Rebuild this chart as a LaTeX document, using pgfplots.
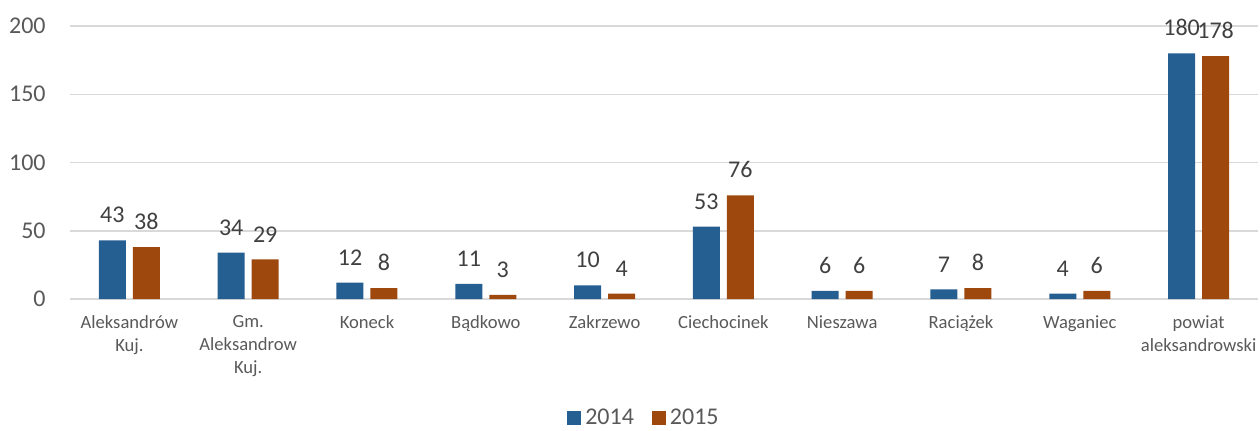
\documentclass[border=0pt]{standalone}
\usepackage{fontspec}
\setmainfont{Carlito}
\usepackage{pgfplots}
\pgfplotsset{compat=1.18}
\definecolor{cblue}{HTML}{255E91}
\definecolor{corange}{HTML}{9E480E}
\definecolor{gridc}{HTML}{D9D9D9}
\definecolor{txt}{HTML}{595959}
\definecolor{lbl}{HTML}{404040}
\begin{document}
\begin{tikzpicture}
\begin{axis}[
  at={(0,0)}, anchor=south west,
  scale only axis, width=594pt, height=136.5pt,
  xmin=-0.5, xmax=9.5, ymin=0, ymax=200,
  ytick={0,50,100,150,200},
  xtick={0,...,9},
  xticklabels={{Aleksandrów\\Kuj.},{Gm.\\Aleksandrow\\Kuj.},Koneck,Bądkowo,Zakrzewo,Ciechocinek,Nieszawa,Raciążek,Waganiec,{powiat\\aleksandrowski}},
  ybar=3.5pt, bar width=13.5pt,
  axis line style={draw=none},
  major tick length=0pt,
  ymajorgrids, grid style={gridc, line width=0.75pt},
  /pgf/number format/assume math mode=true,
  yticklabel style={font=\fontsize{12}{14}\selectfont, color=txt, inner sep=0pt, xshift=-12pt},
  xticklabel style={font=\fontsize{9.3}{11.5}\selectfont, color=txt, align=center, inner sep=0pt, yshift=-8pt},
  nodes near coords,
  every node near coord/.append style={font=\fontsize{12}{14}\selectfont, color=lbl, inner sep=0pt, anchor=south, yshift=8.5pt},
  legend style={at={(axis description cs:0.484,-0.436)}, anchor=center, draw=none, font=\fontsize{12}{14}\selectfont, text=txt, /tikz/every even column/.append style={column sep=7pt}},
  legend columns=2,
  legend image code/.code={\fill[#1] (0pt,-3.5pt) rectangle (7pt,3.5pt);},
]
\addplot[fill=cblue, draw=none] coordinates {(0,43) (1,34) (2,12) (3,11) (4,10) (5,53) (6,6) (7,7) (8,4) (9,180)};
\addplot[fill=corange, draw=none] coordinates {(0,38) (1,29) (2,8) (3,3) (4,4) (5,76) (6,6) (7,8) (8,6) (9,178)};
\legend{2014,2015}
\end{axis}
\pgfresetboundingbox
\path (-35pt,-65.5pt) rectangle (595pt,149.5pt);
\end{tikzpicture}
\end{document}
